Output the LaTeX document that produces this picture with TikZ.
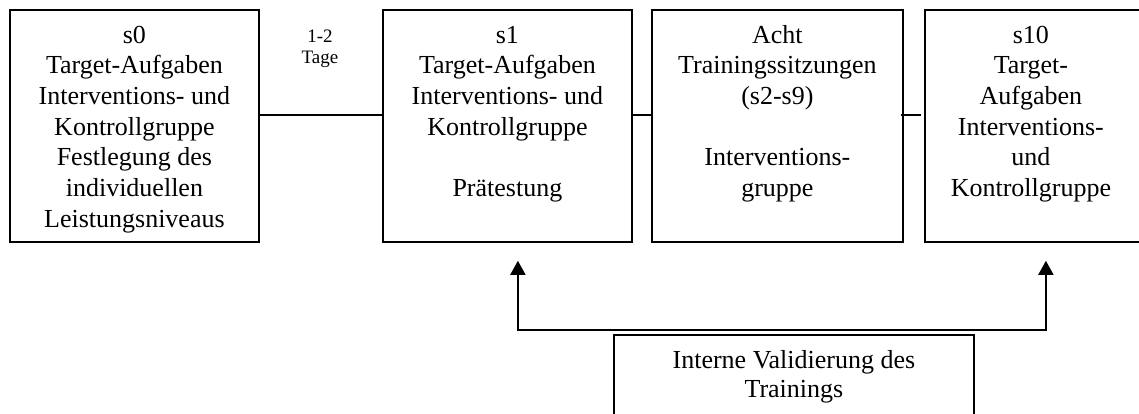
\documentclass[tikz,border=0pt]{standalone}
\usepackage{fontspec}
\setmainfont{Liberation Serif}
\usetikzlibrary{arrows.meta}
\begin{document}
\begin{tikzpicture}[x=1pt,y=-1pt,
  box/.style={draw,line width=1.8pt,minimum width=#1,minimum height=232pt,anchor=north west,inner sep=0pt},
  vbox/.style={draw,line width=1.8pt,minimum width=360pt,minimum height=110pt,anchor=north west,inner sep=0pt},
  txt/.style={align=center,inner sep=0pt,anchor=north,font=\fontsize{26}{30.7}\selectfont},
  small/.style={align=center,inner sep=0pt,anchor=north,font=\fontsize{19}{21}\selectfont},
  conn/.style={line width=1.8pt},
  arr/.style={line width=1.8pt,{Triangle[width=15pt,length=14pt]}-{Triangle[width=15pt,length=14pt]}}]
\useasboundingbox (0,0) rectangle (1139,414);
\fill[white] (0,0) rectangle (1139,414);
% boxes
\node[box=249pt] (s0) at (9,9) {};
\node[box=249pt] (s1) at (382,9) {};
\node[box=251pt] (acht) at (651,9) {};
\node[box=220pt] (s10) at (924,9) {};
\node[vbox] (val) at (613,334) {};
% texts
\node[txt] (t0) at ([yshift=-12.5pt]s0.north) {\strut s0\\Target-Aufgaben\\Interventions- und\\Kontrollgruppe\\Festlegung des\\individuellen\\Leistungsniveaus};
\node[txt] (t1) at ([yshift=-12.5pt]s1.north) {\strut s1\\Target-Aufgaben\\Interventions- und\\Kontrollgruppe\\\strut\\Prätestung};
\node[txt] (ta) at ([yshift=-12.5pt]acht.north) {\strut Acht\\Trainingssitzungen\\(s2-s9)\\\strut\\Interventions-\\gruppe};
\node[txt] (t10) at ([yshift=-12.5pt, xshift=-4pt]s10.north) {\strut s10\\Target-\\Aufgaben\\Interventions-\\und\\Kontrollgruppe};
\node[txt,font=\fontsize{26}{29.5}\selectfont] (tv) at ([yshift=-13.3pt]val.north) {\strut Interne Validierung des\\Trainings};
\node[small] (gap) at (320,27.3) {\strut 1-2\\Tage};
% connectors
\draw[conn] ([yshift=11pt]s0.east) -- ([yshift=11pt]s1.west);
\draw[conn] ([yshift=11pt]s1.east) -- ([yshift=11pt]acht.west);
\draw[conn] ([yshift=11pt,xshift=-3pt]acht.east) -- ([yshift=11pt,xshift=-3pt]s10.west);
\coordinate (tl) at ([xshift=10.5pt,yshift=-18pt]s1.south);
\coordinate (tr) at ([xshift=11pt,yshift=-18pt]s10.south);
\coordinate (vr) at ([yshift=4pt]val.north -| tr);
\draw[arr] (tl) |- (vr) -- (tr);
\end{tikzpicture}
\end{document}
